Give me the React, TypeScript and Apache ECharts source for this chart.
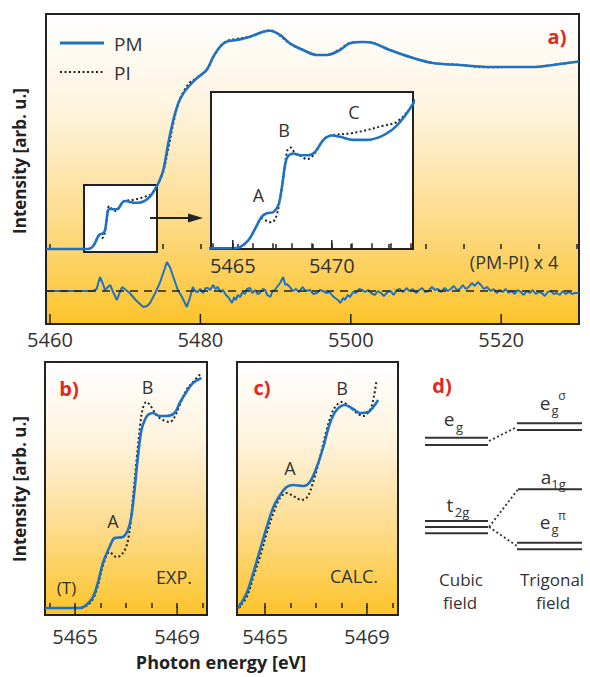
import React, { useEffect, useRef } from 'react';
import * as echarts from 'echarts';

// ---------- data ----------
// main panel a): photon energy [eV], normalised intensity
const pmMain: [number, number][] = [
  [5459.47, 0], [5462.0, 0], [5464.0, 0], [5465.03, 0], [5465.37, 0.003], [5465.79, 0.019], [5466.13, 0.046],
  [5466.46, 0.074], [5466.72, 0.082], [5467.05, 0.085], [5467.3, 0.101], [5467.47, 0.14], [5467.64, 0.195],
  [5467.76, 0.214], [5468.06, 0.222], [5468.4, 0.218], [5468.82, 0.218], [5469.16, 0.226], [5469.58, 0.254],
  [5470.0, 0.264], [5470.42, 0.261], [5471.09, 0.254], [5471.77, 0.254], [5472.44, 0.261], [5473.03, 0.277],
  [5473.45, 0.296], [5473.96, 0.328], [5474.5, 0.37], [5475.07, 0.434], [5475.73, 0.581], [5476.4, 0.709],
  [5477.06, 0.8], [5477.73, 0.855], [5478.62, 0.901], [5479.51, 0.938], [5480.84, 0.984], [5481.72, 1.057],
  [5482.61, 1.111], [5483.5, 1.139], [5484.83, 1.148], [5486.6, 1.166], [5488.36, 1.194], [5489.26, 1.199],
  [5490.59, 1.176], [5491.91, 1.13], [5493.68, 1.093], [5495.47, 1.066], [5496.8, 1.066], [5498.56, 1.093],
  [5499.89, 1.13], [5501.6, 1.137], [5502.95, 1.132], [5505.2, 1.093], [5508.3, 1.049], [5510.9, 1.022],
  [5514.5, 1.011], [5518.1, 1.0], [5521.6, 1.0], [5524.2, 1.0], [5526.9, 1.011], [5530.35, 1.03],
];
const piMain: [number, number][] = [
  [5459.47, 0], [5462.0, 0], [5464.0, 0], [5465.03, 0], [5465.37, 0.003], [5465.79, 0.019], [5466.13, 0.046],
  [5466.46, 0.07], [5466.8, 0.062], [5466.97, 0.061], [5467.19, 0.074], [5467.39, 0.117], [5467.59, 0.179],
  [5467.76, 0.23], [5467.93, 0.236], [5468.15, 0.222], [5468.4, 0.217], [5468.74, 0.209], [5468.99, 0.214],
  [5469.24, 0.23], [5469.66, 0.258], [5470.08, 0.265], [5470.92, 0.269], [5471.77, 0.277], [5472.6, 0.287],
  [5473.28, 0.296], [5473.96, 0.328], [5474.5, 0.368], [5475.07, 0.425], [5475.73, 0.55], [5476.4, 0.69],
  [5477.06, 0.8], [5477.73, 0.862], [5478.62, 0.915], [5479.51, 0.938], [5480.84, 0.985], [5481.72, 1.054],
  [5482.61, 1.11], [5483.5, 1.142], [5484.83, 1.155], [5486.6, 1.166], [5488.36, 1.194], [5489.26, 1.201],
  [5490.59, 1.172], [5491.91, 1.128], [5493.68, 1.093], [5495.47, 1.066], [5496.8, 1.066], [5498.56, 1.098],
  [5499.89, 1.132], [5501.6, 1.137], [5502.95, 1.132], [5505.2, 1.093], [5508.3, 1.049], [5510.9, 1.022],
  [5514.5, 1.011], [5518.1, 0.998], [5521.6, 1.0], [5524.2, 1.0], [5526.9, 1.012], [5530.35, 1.03],
];
// (PM-PI) x 4, arbitrary units
const diffMain: [number, number][] = [
  [5459.5, 0], [5465.7, 0], [5466.2, 0.2], [5466.65, 1.4], [5467.05, 0.7], [5467.3, 0.1], [5467.7, 0.4],
  [5468.0, 0.6], [5468.4, -0.1], [5468.9, -0.9], [5469.3, -0.1], [5469.6, 0.4], [5470.1, 0.1], [5470.6, -0.2],
  [5471.4, -0.9], [5472.4, -1.6], [5472.9, -1.5], [5473.3, -1.2], [5474.0, -0.2], [5474.6, 0.8], [5475.2, 2.1],
  [5475.55, 2.9], [5476.0, 2.3], [5476.4, 1.4], [5477.0, 0.1], [5477.55, -0.6], [5478.2, -1.6], [5478.6, -0.7],
  [5479.0, 0.4], [5479.3, 0.0], [5479.6, -0.1], [5480.0, 0.2], [5480.35, -0.2], [5480.7, 0.3], [5481.0, 0.3],
  [5481.3, 0.1], [5481.7, 0.6], [5482.0, 0.2], [5482.3, 0.4], [5482.7, -0.1], [5483.0, 0.1], [5483.4, -0.4],
  [5483.7, -0.6], [5484.2, -1.2], [5484.5, -0.6], [5484.7, -0.9], [5485.0, -0.4], [5485.3, -0.6], [5485.6, -0.1],
  [5485.9, -0.3], [5486.2, 0.2], [5486.6, 0.3], [5486.9, -0.2], [5487.3, 0.1], [5487.6, -0.3], [5487.9, -0.2],
  [5488.3, 0.2], [5488.6, 0.1], [5488.9, -0.4], [5489.3, -0.6], [5489.6, 0.0], [5489.9, 0.1], [5490.3, 0.5],
  [5490.6, 0.8], [5491.0, 1.4], [5491.3, 0.6], [5491.5, 0.7], [5491.9, 0.4], [5492.3, 0.0], [5492.7, 0.2],
  [5493.1, -0.1], [5493.6, 0.4], [5494.0, 0.0], [5494.6, 0.1], [5495.0, -0.3], [5495.5, -0.2], [5495.9, 0.1],
  [5496.3, 0.0], [5496.8, -0.2], [5497.2, -0.1], [5497.6, -0.5], [5497.9, -0.7], [5498.3, -0.9], [5498.6, -1.2],
  [5499.0, -0.7], [5499.2, -0.9], [5499.6, -0.4], [5499.9, -0.6], [5500.3, -0.1], [5500.7, -0.2], [5501.1, 0.2],
  [5501.5, 0.1], [5501.9, -0.1], [5502.3, 0.1], [5502.7, -0.2], [5503.2, -0.4], [5503.6, 0.0], [5504.0, -0.2],
  [5504.4, -0.5], [5504.9, -0.1], [5505.3, 0.0], [5505.7, -0.4], [5506.1, 0.1], [5506.5, 0.2], [5507.0, -0.1],
  [5507.4, 0.3], [5507.8, 0.0], [5508.2, 0.2], [5508.7, -0.2], [5509.1, 0.1], [5509.5, 0.3], [5509.9, -0.1],
  [5510.3, 0.0], [5510.8, 0.4], [5511.2, 0.1], [5511.6, 0.2], [5512.0, -0.1], [5512.5, 0.3], [5512.9, 0.0],
  [5513.3, 0.2], [5513.7, 0.5], [5514.1, 0.1], [5514.5, 0.2], [5514.9, 0.6], [5515.3, 0.2], [5515.7, 0.4],
  [5516.1, 0.8], [5516.5, 0.5], [5516.9, 0.9], [5517.3, 0.6], [5517.7, 0.2], [5518.1, 0.4], [5518.6, 0.0],
  [5519.0, 0.2], [5519.4, -0.2], [5519.8, 0.1], [5520.2, -0.1], [5520.6, 0.2], [5521.0, -0.2], [5521.4, 0.0],
  [5521.8, -0.3], [5522.2, 0.1], [5522.6, -0.1], [5523.0, -0.4], [5523.4, 0.0], [5523.8, -0.2], [5524.2, 0.1],
  [5524.6, -0.3], [5525.0, -0.1], [5525.4, -0.2], [5525.8, -0.5], [5526.2, -0.1], [5526.6, 0.0], [5527.0, -0.3],
  [5527.4, -0.2], [5527.8, -0.4], [5528.2, 0.0], [5528.6, -0.3], [5529.0, -0.1], [5529.4, -0.3], [5529.8, -0.2],
  [5530.3, -0.2],
];
// panel b) experiment
const pmExp: [number, number][] = [
  [5463.82, 0], [5464.39, 0], [5465.18, 0], [5465.44, 0.03], [5465.7, 0.11], [5465.89, 0.25], [5466.09, 0.45],
  [5466.35, 0.61], [5466.55, 0.7], [5466.87, 0.71], [5467.07, 0.78], [5467.2, 0.91], [5467.33, 1.18],
  [5467.46, 1.51], [5467.6, 1.78], [5467.73, 1.88], [5467.85, 1.93], [5468.05, 1.95], [5468.31, 1.92],
  [5468.58, 1.92], [5468.9, 1.95], [5469.1, 2.05], [5469.36, 2.16], [5469.62, 2.25], [5469.95, 2.3],
];
const piExp: [number, number][] = [
  [5463.82, 0], [5464.39, 0], [5465.18, 0], [5465.44, 0.02], [5465.7, 0.09], [5465.89, 0.22], [5466.09, 0.42],
  [5466.35, 0.56], [5466.62, 0.51], [5466.81, 0.53], [5467.0, 0.61], [5467.14, 0.78], [5467.27, 1.11],
  [5467.42, 1.51], [5467.56, 1.85], [5467.66, 2.0], [5467.79, 2.06], [5467.99, 2.01], [5468.18, 1.93],
  [5468.44, 1.88], [5468.71, 1.86], [5468.9, 1.91], [5469.1, 2.03], [5469.36, 2.18], [5469.62, 2.26], [5469.95, 2.35],
];
// panel c) calculation
const pmCalc: [number, number][] = [
  [5463.95, 0], [5464.28, 0.15], [5464.54, 0.35], [5464.8, 0.58], [5465.07, 0.81], [5465.33, 1.01], [5465.59, 1.13],
  [5465.85, 1.21], [5466.11, 1.23], [5466.5, 1.22], [5466.76, 1.26], [5467.03, 1.41], [5467.29, 1.61],
  [5467.55, 1.85], [5467.81, 1.98], [5468.14, 2.03], [5468.46, 1.99], [5468.73, 1.95], [5469.05, 1.96],
  [5469.25, 2.01], [5469.44, 2.08],
];
const piCalc: [number, number][] = [
  [5463.95, 0], [5464.28, 0.11], [5464.54, 0.31], [5464.8, 0.51], [5465.07, 0.75], [5465.33, 0.95], [5465.59, 1.1],
  [5465.85, 1.15], [5466.11, 1.12], [5466.43, 1.08], [5466.66, 1.11], [5466.89, 1.26], [5467.16, 1.51],
  [5467.42, 1.78], [5467.68, 1.98], [5468.01, 2.06], [5468.33, 2.01], [5468.6, 1.95], [5468.85, 1.92],
  [5469.12, 1.98], [5469.27, 2.11], [5469.38, 2.28],
];
const topTickLabels = [5460, 5480, 5500, 5520];
const insetTickLabels = [5465, 5470];
const smallTickLabels = [5465, 5469];

// ---------- styles ----------
const FONT = "'Open Sans', 'DejaVu Sans', sans-serif";
const TXT = '#333333';
const BLUE = '#1f72c2';
const RED = '#e3261f';
const INK = '#222222';

function bgGradient() {
  return new echarts.graphic.LinearGradient(0, 0, 0, 1, [
    { offset: 0, color: '#ffffff' },
    { offset: 0.3, color: '#fef4e0' },
    { offset: 0.65, color: '#fddc8e' },
    { offset: 1, color: '#fcc42a' },
  ]);
}

function xAxis(gridIndex: number, min: number, max: number, splitNumber: number, labels: number[], margin: number) {
  return {
    type: 'value', gridIndex, min, max, splitNumber,
    axisLine: { show: false },
    splitLine: { show: false },
    axisTick: { show: true, inside: true, length: 5, lineStyle: { color: INK, width: 1.5 } },
    axisLabel: {
      margin, color: TXT, fontSize: 20, fontFamily: FONT, showMinLabel: true, showMaxLabel: true,
      formatter: (v: number) => {
        const m = labels.find((l) => Math.abs(l - v) < 1e-6);
        return m === undefined ? '' : String(m);
      },
    },
  };
}
function yAxis(gridIndex: number, min: number, max: number) {
  return { type: 'value', gridIndex, min, max, show: false };
}
function majorTicks(xAxisIndex: number, yAxisIndex: number, ticks: number[], yBottom: number, len: number) {
  return {
    type: 'custom', xAxisIndex, yAxisIndex, silent: true, z: 6,
    data: ticks.map((t) => [t, yBottom]),
    renderItem: (_p: any, api: any) => {
      const p = api.coord([api.value(0), api.value(1)]);
      return { type: 'line', shape: { x1: p[0], y1: p[1], x2: p[0], y2: p[1] - len }, style: { stroke: INK, lineWidth: 1.5 } };
    },
  };
}
function pmLine(name: string, data: [number, number][], xi: number, yi: number, width = 2.6) {
  return {
    type: 'line', name, data, xAxisIndex: xi, yAxisIndex: yi, showSymbol: false, symbol: 'none', smooth: 0.35,
    lineStyle: { color: BLUE, width }, itemStyle: { color: BLUE }, z: 4, silent: true,
  };
}
function piLine(name: string, data: [number, number][], xi: number, yi: number) {
  return {
    type: 'line', name, data, xAxisIndex: xi, yAxisIndex: yi, showSymbol: false, symbol: 'none', smooth: 0.35,
    lineStyle: { color: INK, width: 2, type: [2, 2.5] }, itemStyle: { color: INK }, z: 3, silent: true,
  };
}
function txt(text: string, x: number, y: number, size: number, extra: any = {}) {
  return {
    type: 'text', x, y, z: 20, silent: true,
    style: {
      text, fill: extra.fill || TXT, fontSize: size, fontFamily: FONT, fontWeight: extra.bold ? 'bold' : 'normal',
      align: extra.align || 'center', verticalAlign: 'middle',
    },
    rotation: extra.rotation || 0,
  };
}
function seg(x1: number, y1: number, x2: number, y2: number, dotted = false) {
  return {
    type: 'line', z: 20, silent: true,
    shape: { x1, y1, x2, y2 },
    style: { stroke: '#333', lineWidth: dotted ? 1.8 : 2, lineDash: dotted ? [2, 2.5] : null },
  };
}

export default function App() {
  const ref = useRef<HTMLDivElement>(null);
  useEffect(() => {
    document.body.style.margin = '0';
    if (!ref.current) return;
    const chart = echarts.init(ref.current, undefined, { renderer: 'svg' });
    const option: any = {
      animation: false,
      grid: [
        { left: 46, top: 14, width: 533, height: 310, show: true, backgroundColor: bgGradient(), borderColor: INK, borderWidth: 2 },
        { left: 211, top: 92, width: 202, height: 157, show: true, backgroundColor: '#ffffff', borderColor: INK, borderWidth: 2 },
        { left: 45, top: 362, width: 162, height: 253, show: true, backgroundColor: bgGradient(), borderColor: INK, borderWidth: 2 },
        { left: 237, top: 362, width: 161, height: 253, show: true, backgroundColor: bgGradient(), borderColor: INK, borderWidth: 2 },
      ],
      xAxis: [
        xAxis(0, 5459.47, 5530.35, 14, topTickLabels, 5),
        xAxis(1, 5463.9, 5474.1, 10, insetTickLabels, 6),
        xAxis(2, 5463.82, 5470.17, 6, smallTickLabels, 11),
        xAxis(3, 5463.9, 5470.22, 6, smallTickLabels, 11),
      ],
      yAxis: [
        yAxis(0, -0.412, 1.291),
        yAxis(0, -3.3, 27.7),
        yAxis(1, -0.0016, 0.366),
        yAxis(2, -0.07, 2.46),
        yAxis(3, -0.07, 2.46),
      ],
      series: [
        piLine('PI', piMain, 0, 0),
        pmLine('PM', pmMain, 0, 0),
        {
          type: 'line', name: '(PM-PI) x 4', data: diffMain, xAxisIndex: 0, yAxisIndex: 1, showSymbol: false, symbol: 'none',
          lineStyle: { color: BLUE, width: 2 }, z: 4, silent: true,
          markLine: {
            silent: true, symbol: ['none', 'none'], label: { show: false },
            lineStyle: { type: [8, 6], color: INK, width: 1.6 }, data: [{ yAxis: 0 }],
          },
        },
        majorTicks(0, 0, topTickLabels, -0.412, 10),
        piLine('PI', piMain, 1, 2),
        pmLine('PM', pmMain, 1, 2),
        majorTicks(1, 2, insetTickLabels, -0.0016, 9),
        piLine('PI', piExp, 2, 3),
        pmLine('PM', pmExp, 2, 3),
        majorTicks(2, 3, smallTickLabels, -0.07, 9),
        piLine('PI', piCalc, 3, 4),
        pmLine('PM', pmCalc, 3, 4),
        majorTicks(3, 4, smallTickLabels, -0.07, 9),
      ],
      graphic: {
        elements: [
          // legend
          { type: 'line', z: 20, silent: true, shape: { x1: 60, y1: 43, x2: 104, y2: 43 }, style: { stroke: BLUE, lineWidth: 2.8 } },
          { type: 'line', z: 20, silent: true, shape: { x1: 60, y1: 72, x2: 104, y2: 72 }, style: { stroke: INK, lineWidth: 2, lineDash: [2, 2.5] } },
          txt('PM', 114, 44, 19, { align: 'left' }),
          txt('PI', 114, 73, 19, { align: 'left' }),
          // zoom box in panel a
          { type: 'rect', z: 1, silent: true, shape: { x: 84, y: 185, width: 73, height: 67 }, style: { fill: '#ffffff', stroke: INK, lineWidth: 2 } },
          { type: 'line', z: 20, silent: true, shape: { x1: 150, y1: 218, x2: 192, y2: 218 }, style: { stroke: INK, lineWidth: 1.8 } },
          { type: 'polygon', z: 20, silent: true, shape: { points: [[188, 213.5], [203, 218], [188, 222.5]] }, style: { fill: INK } },
          // panel labels
          txt('a)', 557, 36, 20, { bold: true, fill: RED }),
          txt('b)', 69, 388, 20, { bold: true, fill: RED }),
          txt('c)', 262, 387, 20, { bold: true, fill: RED }),
          txt('d)', 442, 385, 20, { bold: true, fill: RED }),
          txt('(PM-PI) x 4', 514, 262, 18),
          // inset peak labels
          txt('A', 258.5, 195, 18), txt('B', 284, 130, 18), txt('C', 354, 112, 18),
          // panel b
          txt('A', 113, 521, 18), txt('B', 147.5, 387, 18), txt('EXP.', 174, 577, 18), txt('(T)', 66.5, 587, 17),
          // panel c
          txt('A', 290, 468, 18), txt('B', 342, 388, 18), txt('CALC.', 354, 576, 18),
          // axis titles
          txt('Intensity [arb. u.]', 19, 161, 17, { bold: true, fill: INK, rotation: Math.PI / 2 }),
          txt('Intensity [arb. u.]', 19, 489, 17, { bold: true, fill: INK, rotation: Math.PI / 2 }),
          txt('Photon energy [eV]', 221, 662, 18, { bold: true, fill: INK }),
          // panel d: level diagram
          seg(425, 437.7, 488, 437.7), seg(425, 445, 488, 445),
          seg(517, 423.3, 582, 423.3), seg(517, 430, 582, 430),
          seg(518, 489.3, 582, 489.3),
          seg(425, 521, 488, 521), seg(425, 527, 488, 527), seg(425, 533.3, 488, 533.3),
          seg(517, 542.7, 582, 542.7), seg(517, 549.3, 582, 549.3),
          seg(489, 441, 517, 427, true),
          seg(489, 527, 518, 489.3, true),
          seg(489, 527, 517, 546, true),
          txt('e', 449, 419, 19), txt('g', 459.5, 427, 13),
          txt('t', 450, 505, 19), txt('2g', 462, 512, 13),
          txt('e', 545, 403, 19), txt('g', 555, 410, 13), txt('σ', 562, 395, 12),
          txt('a', 546, 477, 19), txt('1g', 558.5, 484, 13),
          txt('e', 545, 522, 19), txt('g', 555, 529, 13), txt('π', 562, 515, 12),
          txt('Cubic', 461, 579, 17), txt('field', 460, 602, 17),
          txt('Trigonal', 552, 579, 17), txt('field', 553, 602, 17),
        ],
      },
    };
    chart.setOption(option);
    return () => chart.dispose();
  }, []);
  return <div ref={ref} style={{ width: 590, height: 677 }} />;
}
